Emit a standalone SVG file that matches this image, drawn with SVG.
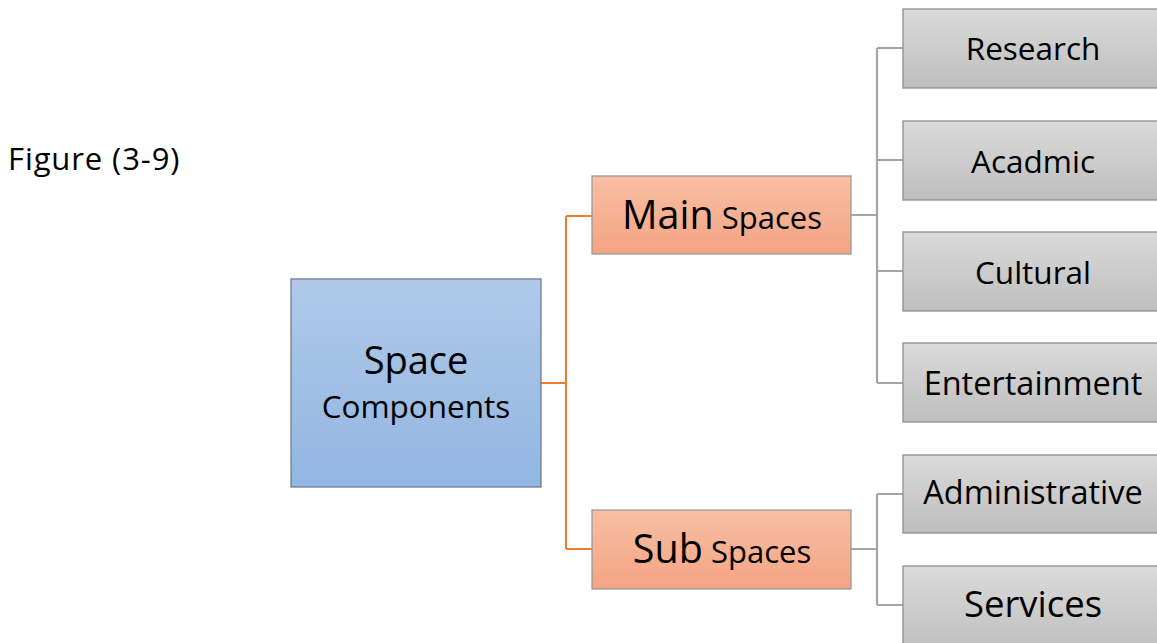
<svg xmlns="http://www.w3.org/2000/svg" width="1157" height="643" viewBox="0 0 1157 643">
<defs>
<linearGradient id="gBlue" x1="0" y1="0" x2="0" y2="1"><stop offset="0" stop-color="#B0C9E9"/><stop offset="1" stop-color="#92B5E2"/></linearGradient>
<linearGradient id="gOrange" x1="0" y1="0" x2="0" y2="1"><stop offset="0" stop-color="#F8BFA3"/><stop offset="1" stop-color="#F4A383"/></linearGradient>
<linearGradient id="gGray" x1="0" y1="0" x2="0" y2="1"><stop offset="0" stop-color="#DADADA"/><stop offset="1" stop-color="#BEBEBE"/></linearGradient>
</defs>
<style>
text{font-family:"Open Sans","Noto Sans","DejaVu Sans",sans-serif;fill:#000;text-anchor:middle}
.leaf{fill:url(#gGray);stroke:#8F8F8F;stroke-width:1.3}
.mid{fill:url(#gOrange);stroke:#9A9A9A;stroke-width:1.3}
.root{fill:url(#gBlue);stroke:#707C8C;stroke-width:1.3}
.co{fill:none;stroke:#ED7D31;stroke-width:2}
.cg{fill:none;stroke:#A5A5A5;stroke-width:2.2}
.t32{font-size:31.5px}
.tl{font-size:32.5px}
</style>
<rect width="1157" height="643" fill="#FFFFFF"/>
<text x="8" y="170" style="font-size:31px;text-anchor:start;letter-spacing:0.9px">Figure (3-9)</text>
<g id="connectors">
<path class="co" d="M541,383 H566 M566,216 V549 M566,216 H592 M566,549 H592"/>
<path class="cg" d="M851,215 H877 M877,48 V383 M877,48 H903 M877,160 H903 M877,271 H903 M877,383 H903"/>
<path class="cg" d="M851,549 H877 M877,494 V605 M877,494 H903 M877,605 H903"/>
</g>
<g id="space-components">
<rect class="root" x="291" y="279" width="250" height="208"/>
<text x="416" y="374" style="font-size:38px">Space</text>
<text x="416" y="418" class="t32">Components</text>
</g>
<g id="main-spaces">
<rect class="mid" x="592" y="176" width="259" height="78"/>
<text x="722" y="229"><tspan style="font-size:39.5px">Main</tspan><tspan style="font-size:31px"> Spaces</tspan></text>
</g>
<g id="sub-spaces">
<rect class="mid" x="592" y="510" width="259" height="79"/>
<text x="722" y="563"><tspan style="font-size:39.5px">Sub</tspan><tspan style="font-size:31px"> Spaces</tspan></text>
</g>
<g id="research">
<rect class="leaf" x="903" y="9" width="262" height="79"/>
<text x="1033" y="60" class="t32">Research</text>
</g>
<g id="acadmic">
<rect class="leaf" x="903" y="121" width="262" height="79"/>
<text x="1033" y="173" class="t32">Acadmic</text>
</g>
<g id="cultural">
<rect class="leaf" x="903" y="232" width="262" height="79"/>
<text x="1033" y="284" class="t32">Cultural</text>
</g>
<g id="entertainment">
<rect class="leaf" x="903" y="343" width="262" height="79"/>
<text x="1033" y="395" class="tl">Entertainment</text>
</g>
<g id="administrative">
<rect class="leaf" x="903" y="455" width="262" height="78"/>
<text x="1033" y="504" class="tl">Administrative</text>
</g>
<g id="services">
<rect class="leaf" x="903" y="566" width="262" height="90"/>
<text x="1033" y="617" style="font-size:36.5px">Services</text>
</g>
</svg>
